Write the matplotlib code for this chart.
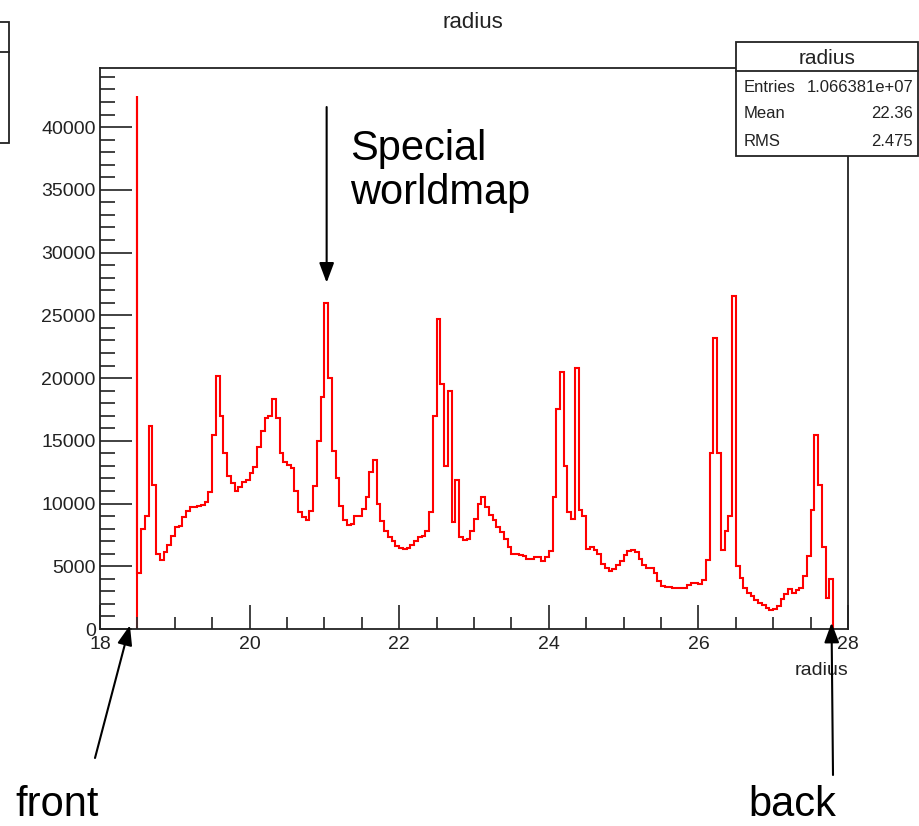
import numpy as np
import matplotlib
matplotlib.use('Agg')
import matplotlib.pyplot as plt
from matplotlib.patches import Rectangle
from matplotlib.ticker import MultipleLocator

plt.rcParams['font.family'] = ['Liberation Sans', 'DejaVu Sans']

# histogram data (bins of 0.05 starting at 18.5)
r_start = 18.5
bin_width = 0.05
spike_width = 0.005
spike_count = 42500
counts = [
    4500, 8000, 9000, 16200, 11500, 6000, 5500, 6100, 6700, 7400,
    8100, 8200, 8900, 9400, 9700, 9750, 9800, 9900, 10100, 10900,
    15500, 20200, 17000, 14000, 12200, 11600, 11000, 11300, 11700, 11900,
    12400, 12900, 14500, 15800, 16800, 17000, 18300, 16800, 14000, 13300,
    13100, 12800, 11000, 9300, 8900, 8650, 9400, 11400, 15000, 18500,
    26000, 20000, 14200, 12000, 9800, 8700, 8300, 8350, 9000, 9000,
    9600, 10500, 12500, 13500, 10000, 8600, 7800, 7300, 7000, 6600,
    6450, 6400, 6450, 6700, 7000, 7300, 7400, 7800, 9300, 17000,
    24700, 19500, 13000, 19000, 8500, 11900, 7300, 7100, 7150, 7800,
    8800, 10000, 10500, 9700, 9100, 8700, 8100, 7700, 7200, 6500,
    6000, 6000, 5900, 5800, 5600, 5550, 5700, 5750, 5400, 5700,
    6200, 10500, 17500, 20500, 13000, 9300, 8800, 20800, 9500, 9000,
    6400, 6500, 6300, 6000, 5200, 4900, 4600, 4800, 5100, 5400,
    5900, 6200, 6300, 6100, 5600, 5100, 4900, 4850, 4500, 3800,
    3450, 3350, 3350, 3300, 3250, 3250, 3300, 3500, 3650, 3700,
    3600, 3900, 5500, 14000, 23200, 14000, 6300, 7800, 9000, 26500,
    5000, 4100, 3300, 2900, 2600, 2300, 2050, 1900, 1700, 1550,
    1600, 1800, 2400, 2800, 3200, 2900, 3100, 3300, 4200, 5800,
    9500, 15500, 11500, 6500, 2500, 4000,
]

stat_labels = ['Entries', 'Mean', 'RMS']
stat_values = ['1.066381e+07', '22.36', '2.475']

edges = np.concatenate([[r_start - spike_width],
                        r_start + bin_width * np.arange(len(counts) + 1)])
values = np.array([spike_count] + counts, dtype=float)

W, H = 919, 826
fig = plt.figure(figsize=(W / 100, H / 100), dpi=100)
ax = fig.add_axes([100 / W, 1 - 629 / H, 748 / W, 561 / H])

ax.stairs(values, edges, color='#ff0000', lw=1.5, baseline=0)
ax.set_xlim(18, 28)
ax.set_ylim(0, spike_count * 1.052)

ax.xaxis.set_major_locator(MultipleLocator(2))
ax.xaxis.set_minor_locator(MultipleLocator(0.5))
ax.yaxis.set_major_locator(MultipleLocator(5000))
ax.yaxis.set_minor_locator(MultipleLocator(1000))
ax.tick_params(which='both', direction='in', top=False, right=False,
               labelsize=14, width=1.3, color='#333333', labelcolor='#222222')
ax.tick_params(axis='x', which='major', length=17, pad=5)
ax.tick_params(axis='x', which='minor', length=9)
ax.tick_params(axis='y', which='major', length=23, pad=3)
ax.tick_params(axis='y', which='minor', length=11)
for s in ax.spines.values():
    s.set_linewidth(1.3)
    s.set_color('#222222')

ax.set_xlabel('radius', fontsize=14, color='#222222')
ax.xaxis.set_label_coords(1.0, -0.058)
ax.xaxis.label.set_horizontalalignment('right')

fig.text(473 / W, 1 - 22 / H, 'radius', ha='center', va='center', fontsize=16,
         color='#222222')

# stats box
bx0, by0, bx1, by1 = 736, 42, 918, 156
fig.add_artist(Rectangle((bx0 / W, 1 - by1 / H), (bx1 - bx0) / W, (by1 - by0) / H,
                         transform=fig.transFigure, facecolor='white',
                         edgecolor='#222222', lw=1.3, zorder=5))
fig.add_artist(plt.Line2D([bx0 / W, bx1 / W], [1 - 71 / H, 1 - 71 / H],
                          transform=fig.transFigure, color='#222222', lw=1.3, zorder=6))
fig.text((bx0 + bx1) / 2 / W, 1 - 58 / H, 'radius', ha='center', va='center',
         fontsize=15, zorder=7, color='#222222')
for i, (lab, val) in enumerate(zip(stat_labels, stat_values)):
    yy = 1 - (87 + 27 * i) / H
    fig.text((bx0 + 8) / W, yy, lab, ha='left', va='center', fontsize=12, zorder=7,
             color='#222222')
    fig.text((bx1 - 5) / W, yy, val, ha='right', va='center', fontsize=12, zorder=7,
             color='#222222')

# partial box cut off at the left edge
fig.add_artist(Rectangle((-20 / W, 1 - 143 / H), 29 / W, 121 / H,
                         transform=fig.transFigure, facecolor='white',
                         edgecolor='#222222', lw=1.3))
fig.add_artist(plt.Line2D([0, 9 / W], [1 - 52 / H, 1 - 52 / H],
                          transform=fig.transFigure, color='#222222', lw=1.3))

# annotations
arrow = dict(arrowstyle='-|>,head_length=1.2,head_width=0.45', color='black', lw=1.5,
             shrinkA=0, shrinkB=0)
ax.annotate('', xy=(21.03, 27600), xytext=(21.03, 41600), arrowprops=arrow,
            annotation_clip=False)
fig.text(350 / W, 1 - 171 / H, 'Special\nworldmap', ha='left', va='center',
         fontsize=30, linespacing=1.15)
ax.annotate('', xy=(18.4, 300), xytext=(95, H - 758), textcoords='figure pixels',
            arrowprops=arrow, annotation_clip=False)
fig.text(15 / W, 1 - 805 / H, 'front', ha='left', va='center', fontsize=30)
ax.annotate('', xy=(27.78, 500), xytext=(833, H - 775), textcoords='figure pixels',
            arrowprops=arrow, annotation_clip=False)
fig.text(748 / W, 1 - 805 / H, 'back', ha='left', va='center', fontsize=30)

fig.savefig('out.png', dpi=100)
